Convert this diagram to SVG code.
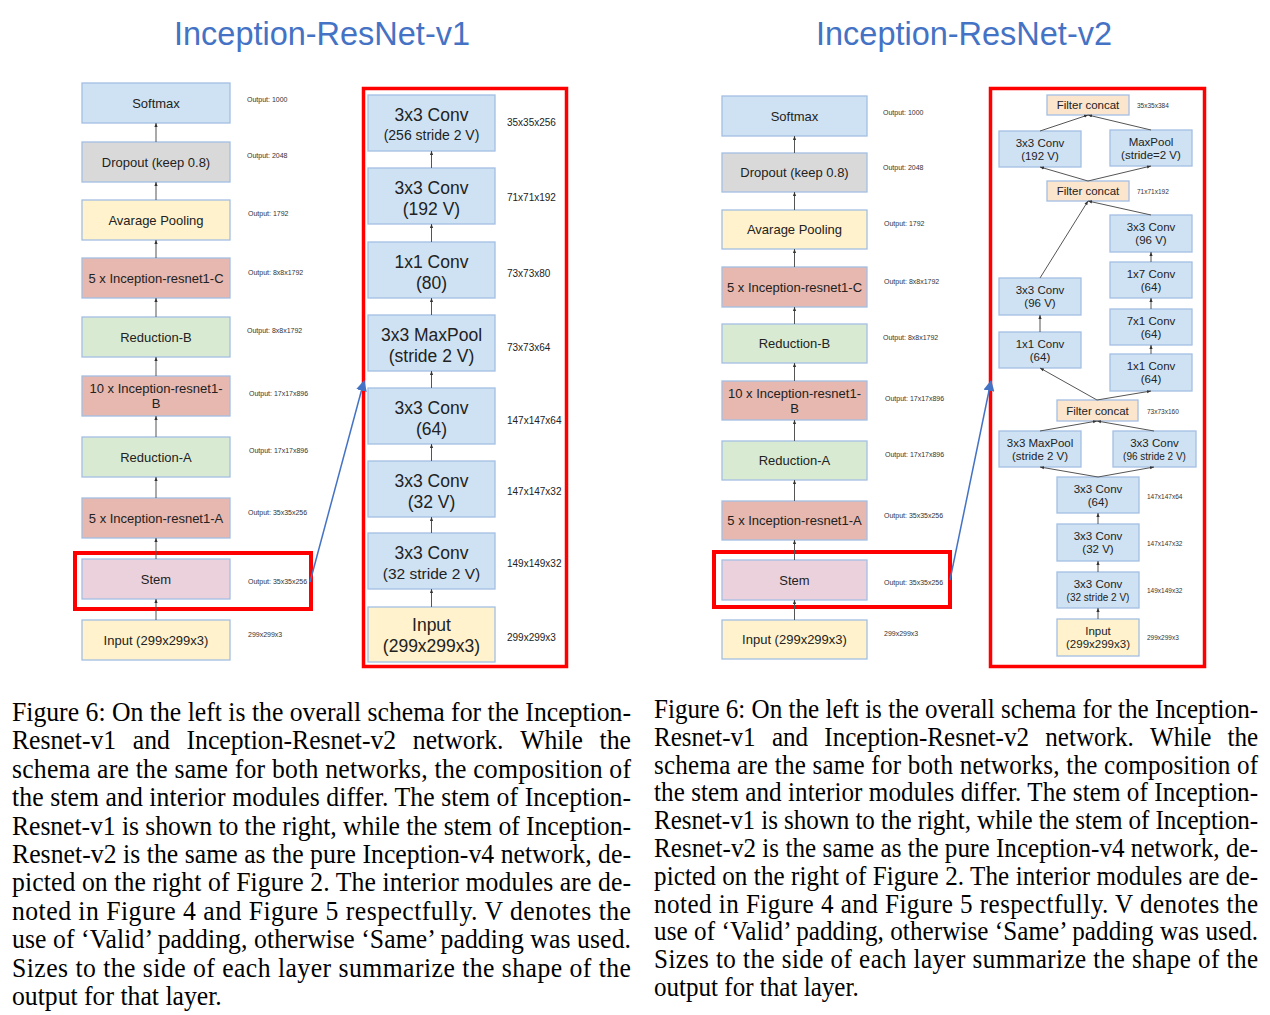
<svg xmlns="http://www.w3.org/2000/svg" width="1270" height="1015" viewBox="0 0 1270 1015">
<style>
.b{stroke:#a3bfe3;stroke-width:1.3}
.blue{fill:#cfe2f3}.gray{fill:#d9d9d9}.yel{fill:#fff2cc}.red{fill:#e6b8af}.grn{fill:#d9ead3}.pnk{fill:#ead1dc}.pch{fill:#fce5cd}
.t{font-family:"Liberation Sans",Arial,sans-serif;fill:#222;text-anchor:middle}
.t13{font-size:13px}.t17{font-size:17.5px}.t11{font-size:11.5px}.t10{font-size:10px}
.o{font-family:"Liberation Sans",Arial,sans-serif;fill:#333;font-size:7px}
.s{font-family:"Liberation Sans",Arial,sans-serif;fill:#222;font-size:10px}
.s6{font-family:"Liberation Sans",Arial,sans-serif;fill:#333;font-size:6.5px}
.c line{stroke:#555;stroke-width:1;marker-end:url(#ah)}
.hl{fill:none;stroke:#ff0000}
.ttl{font-family:"Liberation Sans",Arial,sans-serif;font-size:33px;fill:#4472c4;text-anchor:middle}
.cap{font-family:"Liberation Serif","Times New Roman",serif;font-size:27px;fill:#000}
</style>
<defs>
<marker id="ah" viewBox="0 0 10 10" refX="10" refY="5" markerWidth="4" markerHeight="4" orient="auto" markerUnits="userSpaceOnUse"><path d="M0,1 L10,5 L0,9z" fill="#333"/></marker>
<marker id="bh" viewBox="0 0 10 10" refX="9" refY="5" markerWidth="11" markerHeight="11" orient="auto" markerUnits="userSpaceOnUse"><path d="M0,0 L10,5 L0,10z" fill="#4472c4"/></marker>
</defs>
<rect width="1270" height="1015" fill="#fff"/>

<text class="ttl" x="322" y="45" textLength="296" lengthAdjust="spacingAndGlyphs">Inception-ResNet-v1</text>
<text class="ttl" x="964" y="45" textLength="296" lengthAdjust="spacingAndGlyphs">Inception-ResNet-v2</text>

<!-- Left overall -->
<g id="l-softmax"><rect class="b blue" x="82" y="83" width="148" height="40"/><text class="t t13" x="156" y="107.5">Softmax</text></g>
<g id="l-dropout"><rect class="b gray" x="82" y="142" width="148" height="40"/><text class="t t13" x="156" y="166.5">Dropout (keep 0.8)</text></g>
<g id="l-avgpool"><rect class="b yel" x="82" y="200" width="148" height="40"/><text class="t t13" x="156" y="224.5">Avarage Pooling</text></g>
<g id="l-incC"><rect class="b red" x="82" y="258" width="148" height="40"/><text class="t t13" x="156" y="282.5">5 x Inception-resnet1-C</text></g>
<g id="l-redB"><rect class="b grn" x="82" y="317" width="148" height="40"/><text class="t t13" x="156" y="341.5">Reduction-B</text></g>
<g id="l-incB"><rect class="b red" x="82" y="376" width="148" height="40"/><text class="t t13" x="156" y="393">10 x Inception-resnet1-</text><text class="t t13" x="156" y="408">B</text></g>
<g id="l-redA"><rect class="b grn" x="82" y="437" width="148" height="40"/><text class="t t13" x="156" y="461.5">Reduction-A</text></g>
<g id="l-incA"><rect class="b red" x="82" y="498" width="148" height="40"/><text class="t t13" x="156" y="522.5">5 x Inception-resnet1-A</text></g>
<g id="l-stem"><rect class="b pnk" x="82" y="559" width="148" height="40"/><text class="t t13" x="156" y="583.5">Stem</text></g>
<g id="l-input"><rect class="b yel" x="82" y="620" width="148" height="40"/><text class="t t13" x="156" y="644.5">Input (299x299x3)</text></g>
<g id="l-outputs">
<text class="o" x="247" y="102">Output: 1000</text>
<text class="o" x="247" y="158">Output: 2048</text>
<text class="o" x="248" y="216">Output: 1792</text>
<text class="o" x="248" y="275">Output: 8x8x1792</text>
<text class="o" x="247" y="333">Output: 8x8x1792</text>
<text class="o" x="249" y="396">Output: 17x17x896</text>
<text class="o" x="249" y="453">Output: 17x17x896</text>
<text class="o" x="248" y="515">Output: 35x35x256</text>
<text class="o" x="248" y="584">Output: 35x35x256</text>
<text class="o" x="248" y="637">299x299x3</text>
</g>
<rect class="hl" x="75" y="553" width="236" height="56" stroke-width="4"/>

<!-- Left stem -->
<rect class="hl" x="363.5" y="88.5" width="203" height="578" stroke-width="3.5"/>
<g id="l1-c256"><rect class="b blue" x="368" y="95" width="127" height="56"/><text class="t t17" x="431.5" y="121">3x3 Conv</text><text class="t" style="font-size:14px" x="431.5" y="140">(256 stride 2 V)</text></g>
<g id="l1-c192"><rect class="b blue" x="368" y="168" width="127" height="56"/><text class="t t17" x="431.5" y="194">3x3 Conv</text><text class="t t17" x="431.5" y="215">(192 V)</text></g>
<g id="l1-c80"><rect class="b blue" x="368" y="242" width="127" height="56"/><text class="t t17" x="431.5" y="268">1x1 Conv</text><text class="t t17" x="431.5" y="289">(80)</text></g>
<g id="l1-mp"><rect class="b blue" x="368" y="315" width="127" height="56"/><text class="t t17" x="431.5" y="341">3x3 MaxPool</text><text class="t t17" x="431.5" y="362">(stride 2 V)</text></g>
<g id="l1-c64"><rect class="b blue" x="368" y="388" width="127" height="56"/><text class="t t17" x="431.5" y="414">3x3 Conv</text><text class="t t17" x="431.5" y="435">(64)</text></g>
<g id="l1-c32v"><rect class="b blue" x="368" y="461" width="127" height="56"/><text class="t t17" x="431.5" y="487">3x3 Conv</text><text class="t t17" x="431.5" y="508">(32 V)</text></g>
<g id="l1-c32s"><rect class="b blue" x="368" y="533" width="127" height="56"/><text class="t t17" x="431.5" y="559">3x3 Conv</text><text class="t" style="font-size:15.5px" x="431.5" y="579">(32 stride 2 V)</text></g>
<g id="l1-input"><rect class="b yel" x="368" y="607" width="127" height="55"/><text class="t t17" x="431.5" y="631">Input</text><text class="t t17" x="431.5" y="652">(299x299x3)</text></g>
<g id="l1-sizes">
<text class="s" x="507" y="126">35x35x256</text>
<text class="s" x="507" y="201">71x71x192</text>
<text class="s" x="507" y="277">73x73x80</text>
<text class="s" x="507" y="351">73x73x64</text>
<text class="s" x="507" y="424">147x147x64</text>
<text class="s" x="507" y="495">147x147x32</text>
<text class="s" x="507" y="567">149x149x32</text>
<text class="s" x="507" y="641">299x299x3</text>
</g>

<!-- Right overall -->
<g id="r-softmax"><rect class="b blue" x="722" y="96" width="145" height="40"/><text class="t t13" x="794.5" y="120.5">Softmax</text></g>
<g id="r-dropout"><rect class="b gray" x="722" y="153" width="145" height="39"/><text class="t t13" x="794.5" y="177">Dropout (keep 0.8)</text></g>
<g id="r-avgpool"><rect class="b yel" x="722" y="210" width="145" height="39"/><text class="t t13" x="794.5" y="234">Avarage Pooling</text></g>
<g id="r-incC"><rect class="b red" x="722" y="267" width="145" height="40"/><text class="t t13" x="794.5" y="291.5">5 x Inception-resnet1-C</text></g>
<g id="r-redB"><rect class="b grn" x="722" y="324" width="145" height="39"/><text class="t t13" x="794.5" y="348">Reduction-B</text></g>
<g id="r-incB"><rect class="b red" x="722" y="381" width="145" height="39"/><text class="t t13" x="794.5" y="398">10 x Inception-resnet1-</text><text class="t t13" x="794.5" y="413">B</text></g>
<g id="r-redA"><rect class="b grn" x="722" y="441" width="145" height="39"/><text class="t t13" x="794.5" y="465">Reduction-A</text></g>
<g id="r-incA"><rect class="b red" x="722" y="501" width="145" height="39"/><text class="t t13" x="794.5" y="525">5 x Inception-resnet1-A</text></g>
<g id="r-stem"><rect class="b pnk" x="722" y="560" width="145" height="40"/><text class="t t13" x="794.5" y="584.5">Stem</text></g>
<g id="r-input"><rect class="b yel" x="722" y="620" width="145" height="39"/><text class="t t13" x="794.5" y="644">Input (299x299x3)</text></g>
<g id="r-outputs">
<text class="o" x="883" y="115">Output: 1000</text>
<text class="o" x="883" y="170">Output: 2048</text>
<text class="o" x="884" y="226">Output: 1792</text>
<text class="o" x="884" y="284">Output: 8x8x1792</text>
<text class="o" x="883" y="340">Output: 8x8x1792</text>
<text class="o" x="885" y="401">Output: 17x17x896</text>
<text class="o" x="885" y="457">Output: 17x17x896</text>
<text class="o" x="884" y="518">Output: 35x35x256</text>
<text class="o" x="884" y="585">Output: 35x35x256</text>
<text class="o" x="884" y="636">299x299x3</text>
</g>
<rect class="hl" x="714" y="552" width="236" height="55" stroke-width="4"/>

<!-- Right stem -->
<rect class="hl" x="990.5" y="88.5" width="214" height="578" stroke-width="3.5"/>
<g id="r2-fc1"><rect class="b pch" x="1047" y="95" width="82" height="20"/><text class="t t11" x="1088" y="109">Filter concat</text></g>
<g id="r2-c192"><rect class="b blue" x="999" y="131" width="82" height="36"/><text class="t t11" x="1040" y="147">3x3 Conv</text><text class="t t11" x="1040" y="160">(192 V)</text></g>
<g id="r2-mp1"><rect class="b blue" x="1110" y="130" width="82" height="36"/><text class="t t11" x="1151" y="146">MaxPool</text><text class="t t11" x="1151" y="159">(stride=2 V)</text></g>
<g id="r2-fc2"><rect class="b pch" x="1047" y="181" width="82" height="20"/><text class="t t11" x="1088" y="195">Filter concat</text></g>
<g id="r2-c96r"><rect class="b blue" x="1110" y="215" width="82" height="37"/><text class="t t11" x="1151" y="231">3x3 Conv</text><text class="t t11" x="1151" y="244">(96 V)</text></g>
<g id="r2-c17"><rect class="b blue" x="1110" y="262" width="82" height="36"/><text class="t t11" x="1151" y="278">1x7 Conv</text><text class="t t11" x="1151" y="291">(64)</text></g>
<g id="r2-c71"><rect class="b blue" x="1110" y="309" width="82" height="36"/><text class="t t11" x="1151" y="325">7x1 Conv</text><text class="t t11" x="1151" y="338">(64)</text></g>
<g id="r2-c11r"><rect class="b blue" x="1110" y="354" width="82" height="37"/><text class="t t11" x="1151" y="370">1x1 Conv</text><text class="t t11" x="1151" y="383">(64)</text></g>
<g id="r2-c96l"><rect class="b blue" x="999" y="278" width="82" height="37"/><text class="t t11" x="1040" y="294">3x3 Conv</text><text class="t t11" x="1040" y="307">(96 V)</text></g>
<g id="r2-c11l"><rect class="b blue" x="999" y="332" width="82" height="36"/><text class="t t11" x="1040" y="348">1x1 Conv</text><text class="t t11" x="1040" y="361">(64)</text></g>
<g id="r2-fc3"><rect class="b pch" x="1057" y="400" width="81" height="21"/><text class="t t11" x="1097.5" y="414.5">Filter concat</text></g>
<g id="r2-mp2"><rect class="b blue" x="999" y="431" width="82" height="36"/><text class="t t11" x="1040" y="447">3x3 MaxPool</text><text class="t t11" x="1040" y="460">(stride 2 V)</text></g>
<g id="r2-c96s"><rect class="b blue" x="1113" y="431" width="83" height="36"/><text class="t t11" x="1154.5" y="447">3x3 Conv</text><text class="t t10" x="1154.5" y="460">(96 stride 2 V)</text></g>
<g id="r2-c64"><rect class="b blue" x="1057" y="477" width="82" height="36"/><text class="t t11" x="1098" y="493">3x3 Conv</text><text class="t t11" x="1098" y="506">(64)</text></g>
<g id="r2-c32v"><rect class="b blue" x="1057" y="524" width="82" height="37"/><text class="t t11" x="1098" y="540">3x3 Conv</text><text class="t t11" x="1098" y="553">(32 V)</text></g>
<g id="r2-c32s"><rect class="b blue" x="1057" y="572" width="82" height="36"/><text class="t t11" x="1098" y="588">3x3 Conv</text><text class="t t10" x="1098" y="601">(32 stride 2 V)</text></g>
<g id="r2-input"><rect class="b yel" x="1057" y="619" width="82" height="37"/><text class="t t11" x="1098" y="635">Input</text><text class="t t11" x="1098" y="648">(299x299x3)</text></g>
<g id="r2-sizes">
<text class="s6" x="1137" y="108">35x35x384</text>
<text class="s6" x="1137" y="194">71x71x192</text>
<text class="s6" x="1147" y="414">73x73x160</text>
<text class="s6" x="1147" y="499">147x147x64</text>
<text class="s6" x="1147" y="546">147x147x32</text>
<text class="s6" x="1147" y="593">149x149x32</text>
<text class="s6" x="1147" y="640">299x299x3</text>
</g>

<!-- Connectors -->
<g id="connectors" class="c">
<line x1="156" y1="142" x2="156" y2="123"/>
<line x1="156" y1="200" x2="156" y2="182"/>
<line x1="156" y1="258" x2="156" y2="240"/>
<line x1="156" y1="317" x2="156" y2="298"/>
<line x1="156" y1="376" x2="156" y2="357"/>
<line x1="156" y1="437" x2="156" y2="416"/>
<line x1="156" y1="498" x2="156" y2="477"/>
<line x1="156" y1="559" x2="156" y2="538"/>
<line x1="156" y1="620" x2="156" y2="599"/>

<line x1="431.5" y1="168" x2="431.5" y2="151"/>
<line x1="431.5" y1="242" x2="431.5" y2="224"/>
<line x1="431.5" y1="315" x2="431.5" y2="298"/>
<line x1="431.5" y1="388" x2="431.5" y2="371"/>
<line x1="431.5" y1="461" x2="431.5" y2="444"/>
<line x1="431.5" y1="533" x2="431.5" y2="517"/>
<line x1="431.5" y1="607" x2="431.5" y2="589"/>

<line x1="794.5" y1="153" x2="794.5" y2="136"/>
<line x1="794.5" y1="210" x2="794.5" y2="192"/>
<line x1="794.5" y1="267" x2="794.5" y2="249"/>
<line x1="794.5" y1="324" x2="794.5" y2="307"/>
<line x1="794.5" y1="381" x2="794.5" y2="363"/>
<line x1="794.5" y1="441" x2="794.5" y2="420"/>
<line x1="794.5" y1="501" x2="794.5" y2="480"/>
<line x1="794.5" y1="560" x2="794.5" y2="540"/>
<line x1="794.5" y1="620" x2="794.5" y2="600"/>

<line x1="1040" y1="131" x2="1088" y2="115"/>
<line x1="1151" y1="130" x2="1088" y2="115"/>
<line x1="1088" y1="181" x2="1040" y2="167"/>
<line x1="1088" y1="181" x2="1151" y2="166"/>
<line x1="1040" y1="278" x2="1088" y2="201"/>
<line x1="1151" y1="215" x2="1088" y2="201"/>
<line x1="1040" y1="332" x2="1040" y2="315"/>
<line x1="1151" y1="262" x2="1151" y2="252"/>
<line x1="1151" y1="309" x2="1151" y2="298"/>
<line x1="1151" y1="354" x2="1151" y2="345"/>
<line x1="1097" y1="400" x2="1040" y2="368"/>
<line x1="1097" y1="400" x2="1151" y2="391"/>
<line x1="1040" y1="431" x2="1097" y2="421"/>
<line x1="1154" y1="431" x2="1097" y2="421"/>
<line x1="1098" y1="477" x2="1040" y2="467"/>
<line x1="1098" y1="477" x2="1154" y2="467"/>
<line x1="1098" y1="524" x2="1098" y2="513"/>
<line x1="1098" y1="572" x2="1098" y2="561"/>
<line x1="1098" y1="619" x2="1098" y2="608"/>

<line x1="310" y1="582" x2="364" y2="381" style="stroke:#4472c4;stroke-width:1.5;marker-end:url(#bh)"/>
<line x1="950" y1="580" x2="991" y2="381" style="stroke:#4472c4;stroke-width:1.5;marker-end:url(#bh)"/>
</g>

<!-- Captions -->
<g id="caption-left" class="cap" transform="scale(0.952,1)">
<text x="12.6" y="721" textLength="650.2" lengthAdjust="spacing">Figure 6: On the left is the overall schema for the Inception-</text>
<text y="749.4"><tspan x="12.6">Resnet-v1</tspan><tspan x="139.5">and</tspan><tspan x="195.9">Inception-Resnet-v2</tspan><tspan x="433.7">network.</tspan><tspan x="546.4">While</tspan><tspan x="629.8">the</tspan></text>
<text x="12.6" y="777.8" textLength="650.2" lengthAdjust="spacing">schema are the same for both networks, the composition of</text>
<text x="12.6" y="806.2" textLength="650.2" lengthAdjust="spacing">the stem and interior modules differ. The stem of Inception-</text>
<text x="12.6" y="834.6" textLength="650.2" lengthAdjust="spacing">Resnet-v1 is shown to the right, while the stem of Inception-</text>
<text x="12.6" y="863" textLength="650.2" lengthAdjust="spacing">Resnet-v2 is the same as the pure Inception-v4 network, de-</text>
<text x="12.6" y="891.4" textLength="650.2" lengthAdjust="spacing">picted on the right of Figure 2. The interior modules are de-</text>
<text x="12.6" y="919.8" textLength="650.2" lengthAdjust="spacing">noted in Figure 4 and Figure 5 respectfully. V denotes the</text>
<text x="12.6" y="948.2" textLength="650.2" lengthAdjust="spacing">use of ‘Valid’ padding, otherwise ‘Same’ padding was used.</text>
<text x="12.6" y="976.6" textLength="650.2" lengthAdjust="spacing">Sizes to the side of each layer summarize the shape of the</text>
<text x="12.6" y="1005">output for that layer.</text>
</g>
<g id="caption-right" class="cap" transform="scale(0.929,1)">
<text x="704" y="718" textLength="650.2" lengthAdjust="spacing">Figure 6: On the left is the overall schema for the Inception-</text>
<text y="745.8"><tspan x="704">Resnet-v1</tspan><tspan x="830.9">and</tspan><tspan x="887.3">Inception-Resnet-v2</tspan><tspan x="1125.2">network.</tspan><tspan x="1237.9">While</tspan><tspan x="1321.3">the</tspan></text>
<text x="704" y="773.6" textLength="650.2" lengthAdjust="spacing">schema are the same for both networks, the composition of</text>
<text x="704" y="801.4" textLength="650.2" lengthAdjust="spacing">the stem and interior modules differ. The stem of Inception-</text>
<text x="704" y="829.2" textLength="650.2" lengthAdjust="spacing">Resnet-v1 is shown to the right, while the stem of Inception-</text>
<text x="704" y="857" textLength="650.2" lengthAdjust="spacing">Resnet-v2 is the same as the pure Inception-v4 network, de-</text>
<text x="704" y="884.8" textLength="650.2" lengthAdjust="spacing">picted on the right of Figure 2. The interior modules are de-</text>
<text x="704" y="912.6" textLength="650.2" lengthAdjust="spacing">noted in Figure 4 and Figure 5 respectfully. V denotes the</text>
<text x="704" y="940.4" textLength="650.2" lengthAdjust="spacing">use of ‘Valid’ padding, otherwise ‘Same’ padding was used.</text>
<text x="704" y="968.2" textLength="650.2" lengthAdjust="spacing">Sizes to the side of each layer summarize the shape of the</text>
<text x="704" y="996">output for that layer.</text>
</g>
</svg>
